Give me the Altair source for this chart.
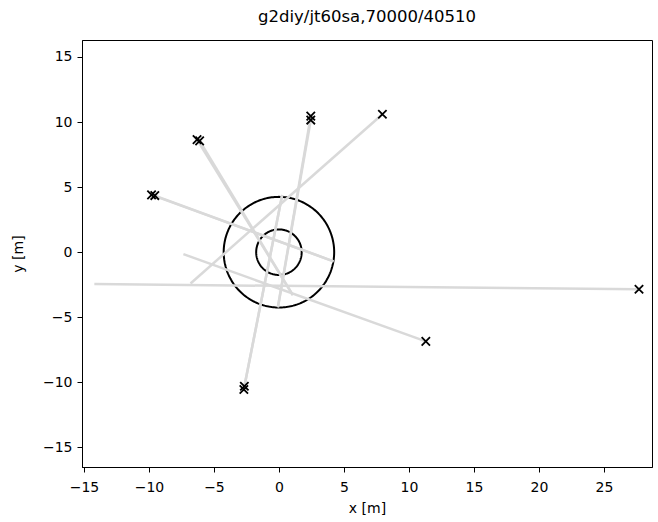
import altair as alt
import numpy as np
import pandas as pd

title_text = "g2diy/jt60sa,70000/40510"

# Detector positions (start of each sightline) and where each chord ends
start_x = [7.96, 2.45, 2.45, -6.30, -6.10, -9.80, -9.55, -2.66, -2.70, 11.30, 27.70]
start_y = [10.60, 10.45, 10.15, 8.65, 8.55, 4.40, 4.35, -10.30, -10.55, -6.85, -2.85]
end_x = [-6.80, -0.08, -0.08, 1.07, 1.07, 4.20, 4.20, 0.25, 0.25, -7.35, -14.20]
end_y = [-2.40, -4.23, -4.23, -3.30, -3.30, -0.70, -0.70, 4.40, 4.40, -0.15, -2.45]

# Inner and outer boundary radii (centred on the origin)
radii = [1.75, 4.25]

x_ticks = [-15, -10, -5, 0, 5, 10, 15, 20, 25]
y_ticks = [-15, -10, -5, 0, 5, 10, 15]
x_domain = [-15.15, 28.7]
y_domain = [-16.5, 16.3]

lines = pd.DataFrame({"x": start_x, "y": start_y, "x2": end_x, "y2": end_y})

phi = np.linspace(0, 2 * np.pi, 241)
circ = pd.DataFrame(
    [{"r": r, "i": i, "x": r * np.cos(p), "y": r * np.sin(p)}
     for r in radii for i, p in enumerate(phi)]
)

minus = "replace(datum.label, '-', '\u2212')"
xs = alt.Scale(domain=x_domain, nice=False, zero=False)
ys = alt.Scale(domain=y_domain, nice=False, zero=False)
xax = alt.Axis(values=x_ticks, title="x [m]", labelExpr=minus,
               labelPadding=8, titlePadding=7)
yax = alt.Axis(values=y_ticks, title="y [m]", labelExpr=minus,
               labelPadding=5, titlePadding=17)

circles = alt.Chart(circ).mark_line(color="black", strokeWidth=2).encode(
    x=alt.X("x:Q", scale=xs, axis=xax),
    y=alt.Y("y:Q", scale=ys, axis=yax),
    detail="r:N",
    order="i:Q",
)

chords = alt.Chart(lines).mark_rule(color="#d9d9d9", strokeWidth=2.5).encode(
    x=alt.X("x:Q", scale=xs),
    y=alt.Y("y:Q", scale=ys),
    x2="x2:Q",
    y2="y2:Q",
)

markers = alt.Chart(lines).mark_point(
    shape="M-1,-1L1,1M-1,1L1,-1", filled=False, color="black",
    strokeWidth=1.8, size=70, opacity=1,
).encode(
    x=alt.X("x:Q", scale=xs),
    y=alt.Y("y:Q", scale=ys),
)

chart = (
    alt.layer(circles, chords, markers)
    .properties(
        width=570, height=427,
        title=alt.TitleParams(title_text),
        autosize=alt.AutoSizeParams(type="none"),
        padding={"left": 82, "top": 40, "right": 6, "bottom": 55},
    )
    .configure_view(stroke="black", strokeWidth=1)
    .configure_axis(
        grid=False, domainColor="black", domainWidth=1, tickColor="black",
        tickSize=5, tickWidth=1, labelColor="black", titleColor="black",
        labelFont="DejaVu Sans", titleFont="DejaVu Sans", labelFontSize=14,
        titleFontSize=14, titleFontWeight="normal",
    )
    .configure_title(font="DejaVu Sans", fontSize=16.5, fontWeight="normal",
                     color="black", anchor="middle", offset=15)
)

chart.save("out.html", embed_options={"renderer": "svg", "actions": False})
